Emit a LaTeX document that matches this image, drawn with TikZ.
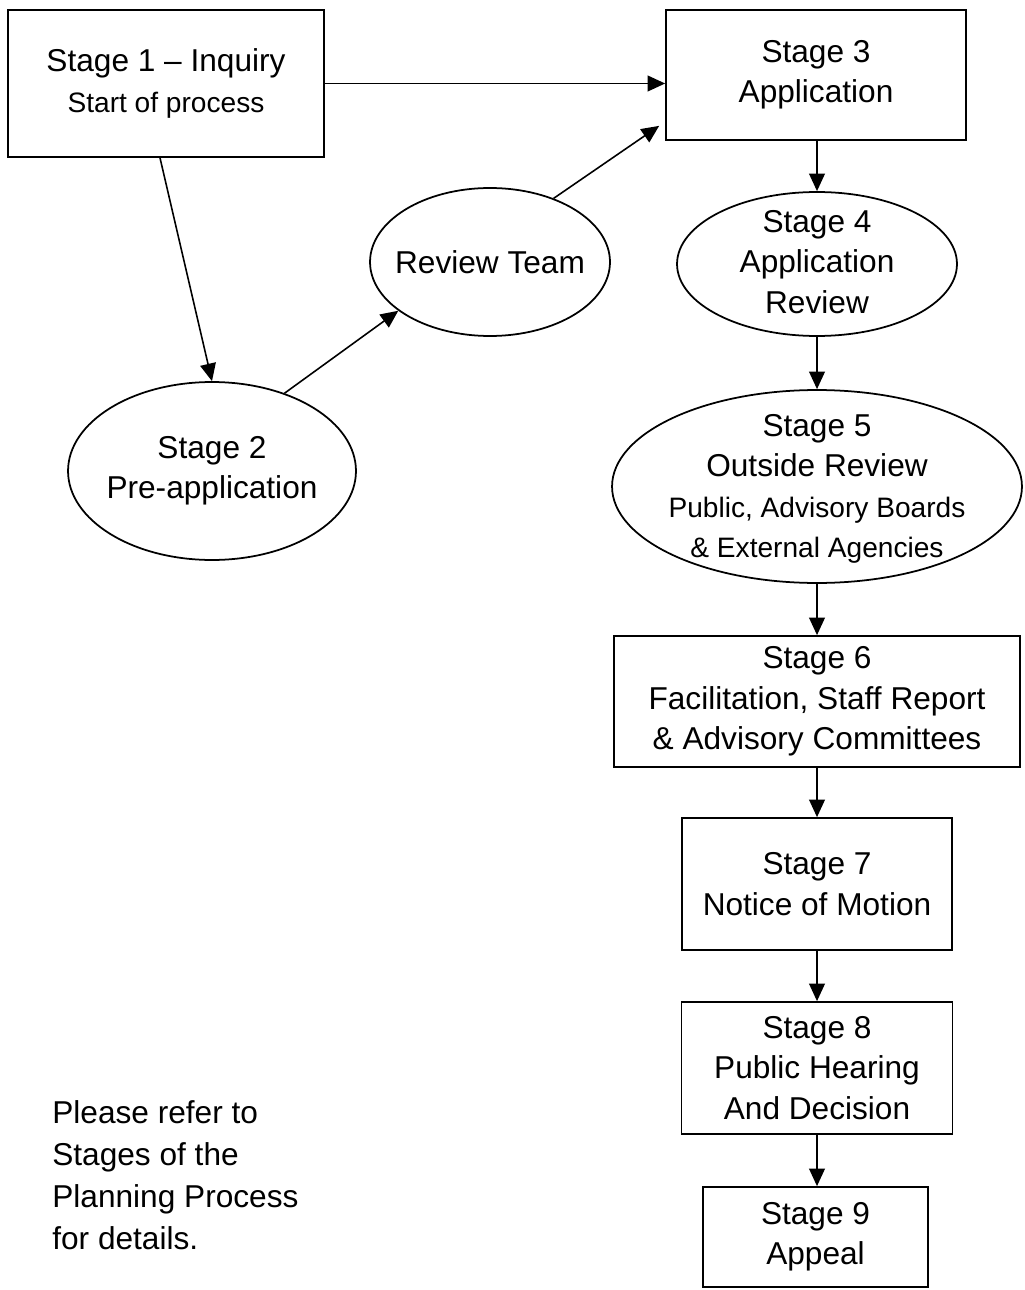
\documentclass[tikz,border=0pt]{standalone}
\usepackage{fontspec}
\setmainfont{Liberation Sans}
\usetikzlibrary{arrows.meta,shapes.geometric,calc}
\newcommand{\subline}{\fontsize{16}{21}\selectfont}

\begin{document}
\begin{tikzpicture}[x=0.02cm,y=-0.02cm]
    \tikzset{stagebox/.style={draw=black, line width=1pt, inner sep=0pt, align=center,
            font=\fontsize{18}{23}\selectfont},
        stageell/.style={draw=black, ellipse, line width=1pt, inner sep=0pt},
        stagetext/.style={align=center, inner sep=0pt, font=\fontsize{18}{23}\selectfont},
        flow/.style={-{Triangle[length=10pt,width=9pt]}, line width=0.9pt}}
    \useasboundingbox (0,0) rectangle (1024,1290);

    %Boxes
    \node[stagebox, minimum width=6.32cm, minimum height=2.94cm] (s1) at (166,83.5)
        {Stage 1 -- Inquiry\\{\subline Start of process}};
    \node[stagebox, minimum width=6cm, minimum height=2.6cm] (s3) at (816,75)
        {Stage 3\\Application};
    \node[stagebox, minimum width=8.12cm, minimum height=2.62cm] (s6) at (817,701.5)
        {Stage 6\\Facilitation, Staff Report\\\& Advisory Committees};
    \node[stagebox, minimum width=5.4cm, minimum height=2.64cm] (s7) at (817,884)
        {Stage 7\\Notice of Motion};
    \node[stagebox, minimum width=5.42cm, minimum height=2.64cm] (s8) at (817,1068)
        {Stage 8\\Public Hearing\\And Decision};
    \node[stagebox, minimum width=4.5cm, minimum height=2cm] (s9) at (815.5,1237)
        {Stage 9\\Appeal};

    %Ellipsen
    \node[stageell, minimum width=5.76cm, minimum height=3.56cm] (s2) at (212,471) {};
    \node[stagetext] (s2t) at (s2) {Stage 2\\Pre-application};
    \node[stageell, minimum width=4.8cm, minimum height=2.96cm] (rev) at (490,262) {};
    \node[stagetext] (revt) at (rev) {Review Team};
    \node[stageell, minimum width=5.6cm, minimum height=2.88cm] (s4) at (817,264) {};
    \node[stagetext] (s4t) at (817,262) {Stage 4\\Application\\Review};
    \node[stageell, minimum width=8.2cm, minimum height=3.86cm] (s5) at (817,486.5) {};
    \node[stagetext] (s5t) at (817,489)
        {Stage 5\\Outside Review\\{\subline Public, Advisory Boards}\\{\subline \& External Agencies}};

    %Hinweis
    \node[anchor=north west, align=left, inner sep=0pt, font=\fontsize{18}{24}\selectfont]
        (note) at (52,1100) {Please refer to\\Stages of the\\Planning Process\\for details.};

    %Pfeile
    \draw[flow] (s1.east) -- (s1.east -| s3.west);
    \draw[flow] ($(s1.south)+(-6,0)$) -- (s2.north);
    \draw[flow] (s2.47) -- (rev.208);
    \draw[flow] (rev.45) -- ($(s3.south west)+(-6,-15)$);
    \draw[flow] (s4.north |- s3.south) -- (s4.north);
    \draw[flow] (s4.south) -- (s5.north);
    \draw[flow] (s5.south) -- (s6.north);
    \draw[flow] (s6.south) -- (s7.north);
    \draw[flow] (s7.south) -- (s8.north);
    \draw[flow] (s8.south) -- (s8.south |- s9.north);

\end{tikzpicture}
\end{document}
